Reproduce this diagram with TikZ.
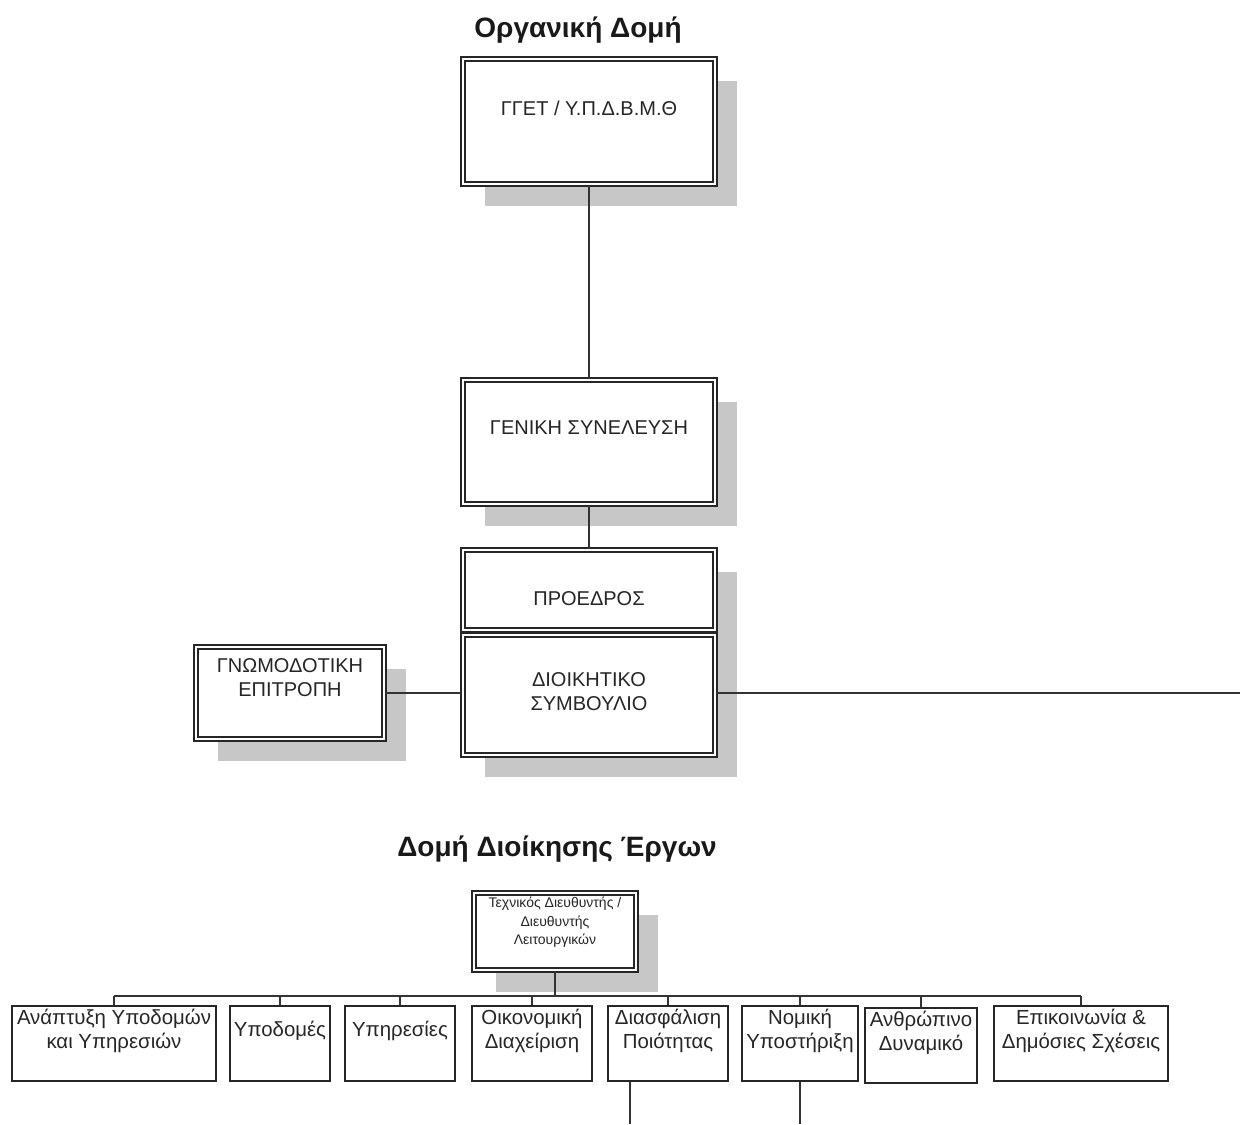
\documentclass[tikz,border=0pt]{standalone}
\usepackage{fontspec}
\setmainfont{Liberation Sans}
\usetikzlibrary{positioning, shadows}

\begin{document}
\begin{tikzpicture}[
    x=0.5pt, y=-0.5pt,  % one unit = one pixel of the layout
    % Styles
    heading/.style={font=\fontsize{14}{16}\selectfont\bfseries, text=black!90},
    shadowfill/.style={fill=black!22},
    unitframe/.style={draw=black!85, line width=0.75pt, double=white, double distance=1.25pt, fill=white, inner sep=0pt},
    unitbox/.style={unitframe, drop shadow={shadow xshift=11pt, shadow yshift=-11pt, opacity=1, shadowfill}},
    unitlabel/.style={font=\fontsize{10}{12}\selectfont, align=center, text=black!85},
    smalllabel/.style={font=\fontsize{7}{9.2}\selectfont, align=center, text=black!85},
    deptbox/.style={draw=black!85, line width=0.9pt, fill=white, inner sep=0pt, minimum height=37.5pt},
    deptlabel/.style={font=\fontsize{10.2}{12}\selectfont, align=center, text=black!85, yshift=6.25pt},
    link/.style={draw=black!80, line width=0.8pt},
]

% Page frame
\path[use as bounding box, fill=white] (0,0) rectangle (1240,1124);

% Title of the organisation chart
\node[heading] (orgtitle) at (578, 30) {Οργανική Δομή};

% Supervising authority
\node[unitbox, minimum width=126pt, minimum height=62.5pt,
      label={[unitlabel, yshift=6.75pt]center:ΓΓΕΤ / Υ.Π.Δ.Β.Μ.Θ}] (gget) at (589, 121.5) {};

% General assembly
\node[unitbox, minimum width=126pt, minimum height=62pt,
      label={[unitlabel, yshift=7pt]center:ΓΕΝΙΚΗ ΣΥΝΕΛΕΥΣΗ}] (genset) at (589, 442) {};
\draw[link] (gget) -- (genset);

% President and board, stacked, one shadow behind both
\fill[shadowfill] (485, 572) rectangle (737, 777);
\node[unitframe, minimum width=126pt, minimum height=40pt,
      label={[unitlabel, yshift=-4.25pt]center:ΠΡΟΕΔΡΟΣ}] (proedros) at (589, 590) {};
\node[unitframe, minimum width=126pt, minimum height=60pt, below=1.75pt of proedros,
      label={[unitlabel, yshift=1.5pt]center:ΔΙΟΙΚΗΤΙΚΟ\\ΣΥΜΒΟΥΛΙΟ}] (dioik) {};
\draw[link] (genset) -- (proedros);

% Advisory committee to the left
\node[unitbox, minimum width=94pt, minimum height=46pt,
      label={[unitlabel, yshift=7.5pt]center:ΓΝΩΜΟΔΟΤΙΚΗ\\ΕΠΙΤΡΟΠΗ}] (gnom) at (290, 693) {};
\draw[link] (gnom) -- (gnom -| dioik.west);

% Link leaving the page to the right
\coordinate (boardout) at (1240, 693);
\draw[link] (dioik.east |- boardout) -- (boardout);

% Title of the project structure
\node[heading] (projtitle) at (557, 849) {Δομή Διοίκησης Έργων};

% Technical director
\node[unitbox, minimum width=81pt, minimum height=38.5pt,
      label={[smalllabel, yshift=4.5pt]center:Τεχνικός Διευθυντής /\\Διευθυντής\\Λειτουργικών}] (techdir) at (555, 931.5) {};

% Departments
\node[deptbox, minimum width=102pt, label={[deptlabel]center:Ανάπτυξη Υποδομών\\και Υπηρεσιών}] (dept1) at (114, 1043.5) {};
\node[deptbox, minimum width=50pt, label={[deptlabel]center:Υποδομές}] (dept2) at (280, 1043.5) {};
\node[deptbox, minimum width=55pt, label={[deptlabel]center:Υπηρεσίες}] (dept3) at (400, 1043.5) {};
\node[deptbox, minimum width=60pt, label={[deptlabel]center:Οικονομική\\Διαχείριση}] (dept4) at (532, 1043.5) {};
\node[deptbox, minimum width=60pt, label={[deptlabel]center:Διασφάλιση\\Ποιότητας}] (dept5) at (668, 1043.5) {};
\node[deptbox, minimum width=58pt, label={[deptlabel]center:Νομική\\Υποστήριξη}] (dept6) at (800, 1043.5) {};
\node[deptbox, minimum width=56pt, label={[deptlabel]center:Ανθρώπινο\\Δυναμικό}] (dept7) at (921, 1045.5) {};
\node[deptbox, minimum width=87pt, label={[deptlabel]center:Επικοινωνία \&\\Δημόσιες Σχέσεις}] (dept8) at (1081, 1043.5) {};

% Bus from the director to the departments
\coordinate (bus) at (555, 996);
\draw[link] (techdir) -- (techdir.south |- bus);
\draw[link] (dept1.north |- bus) -- (dept8.north |- bus);
\draw[link] (dept1) -- (dept1 |- bus) (dept2) -- (dept2 |- bus) (dept3) -- (dept3 |- bus)
    (dept4) -- (dept4 |- bus) (dept5) -- (dept5 |- bus) (dept6) -- (dept6 |- bus)
    (dept7) -- (dept7 |- bus) (dept8) -- (dept8 |- bus);

% Links leaving the page at the bottom
\coordinate (qaend) at (630, 1124);
\coordinate (legalend) at (800, 1124);
\draw[link] (qaend |- dept5.south) -- (qaend);
\draw[link] (dept6) -- (legalend);

\end{tikzpicture}
\end{document}
